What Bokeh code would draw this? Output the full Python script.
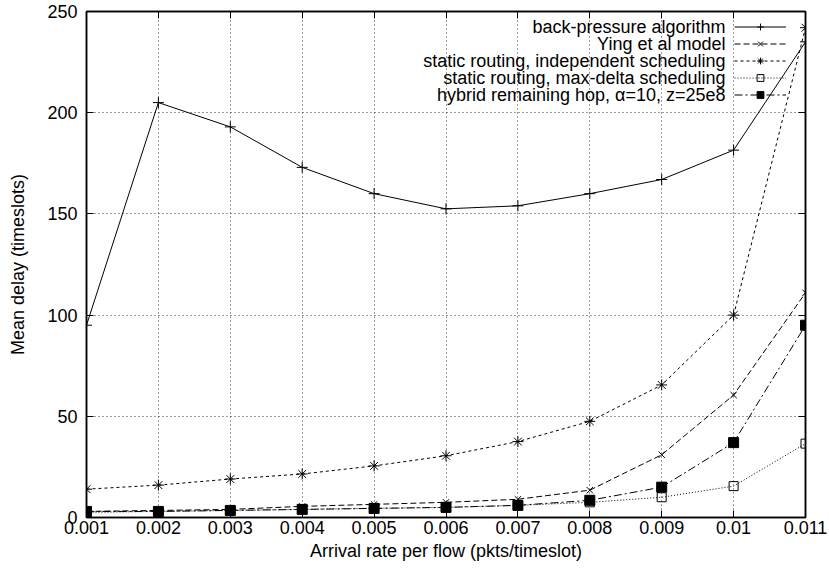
from bokeh.plotting import figure
from bokeh.models import (FixedTicker, LinearAxis, Legend, LegendItem, Range1d,
                          CustomLabelingPolicy, Label)
from bokeh.embed import file_html
from bokeh.resources import INLINE

# ---- data ----
rates = [0.001, 0.002, 0.003, 0.004, 0.005, 0.006, 0.007, 0.008, 0.009, 0.010, 0.011]
back_pressure = [95, 205, 193, 173, 160, 152.5, 154, 160, 167, 181.5, 235]
ying_model = [3, 3.5, 4, 5.5, 6.5, 7.5, 9, 13.5, 31, 60.5, 111]
static_indep = [14, 16, 19, 21.5, 25.5, 30.5, 37.5, 47.5, 65.5, 100, 242]
static_maxdelta = [2.5, 3, 3.5, 4, 4.5, 5, 6, 7.5, 10, 15.5, 36.5]
hybrid = [3, 3, 3.5, 4, 4.5, 5, 6, 8.5, 15, 37, 95]

x_ticks = [0.001, 0.002, 0.003, 0.004, 0.005, 0.006, 0.007, 0.008, 0.009, 0.01, 0.011]
x_tick_labels = ["0.001", "0.002", "0.003", "0.004", "0.005", "0.006", "0.007",
                 "0.008", "0.009", "0.01", "0.011"]
y_ticks = [0, 50, 100, 150, 200, 250]

labels = ["back-pressure algorithm", "Ying et al model",
          "static routing, independent scheduling",
          "static routing, max-delta scheduling",
          "hybrid remaining hop, \u03b1=10, z=25e8"]

FONT = "Liberation Sans"
FS = "18px"

p = figure(width=829, height=574, output_backend="svg", toolbar_location=None,
           x_range=Range1d(0.001, 0.011), y_range=Range1d(0, 250),
           min_border_left=86, min_border_right=24, min_border_top=10,
           min_border_bottom=57)

p.outline_line_color = "black"
p.outline_line_width = 1.5

# axes
p.xaxis.ticker = FixedTicker(ticks=x_ticks)
p.xaxis.major_label_overrides = {t: l for t, l in zip(x_ticks, x_tick_labels)}
p.yaxis.ticker = FixedTicker(ticks=y_ticks)
for ax in [p.xaxis[0], p.yaxis[0]]:
    ax.major_tick_in = 7
    ax.major_tick_out = 0
    ax.minor_tick_in = 0
    ax.minor_tick_out = 0
    ax.axis_line_color = "black"
    ax.axis_line_width = 1.5
    ax.major_label_text_font = FONT
    ax.major_label_text_font_size = FS
    ax.major_label_text_color = "black"
    ax.axis_label_text_font = FONT
    ax.axis_label_text_font_size = FS
    ax.axis_label_text_font_style = "normal"
    ax.axis_label_text_color = "black"
p.xaxis.axis_label = "Arrival rate per flow (pkts/timeslot)"
p.yaxis.axis_label = "Mean delay (timeslots)"
p.xaxis.major_label_standoff = 3
p.xaxis.axis_label_standoff = 4
p.yaxis.major_label_standoff = 9
p.yaxis.axis_label_standoff = 16

HIDE = "for (let i = 0; i < indices.size; i++) { indices.unset(i) } return indices"
top = LinearAxis(ticker=FixedTicker(ticks=x_ticks),
                 major_label_policy=CustomLabelingPolicy(code=HIDE),
                 major_tick_in=7, major_tick_out=0, minor_tick_in=0, minor_tick_out=0,
                 major_label_standoff=0, axis_line_width=1.5)
right = LinearAxis(ticker=FixedTicker(ticks=y_ticks),
                   major_label_policy=CustomLabelingPolicy(code=HIDE),
                   major_tick_in=7, major_tick_out=0, minor_tick_in=0, minor_tick_out=0,
                   major_label_standoff=0, axis_line_width=1.5)
p.add_layout(top, "above")
p.add_layout(right, "right")

# grid
p.xgrid.ticker = FixedTicker(ticks=x_ticks)
p.ygrid.ticker = FixedTicker(ticks=y_ticks)
for g in [p.xgrid[0], p.ygrid[0]]:
    g.grid_line_color = "black"
    g.grid_line_dash = "1 3"
    g.grid_line_width = 1
    g.grid_line_alpha = 0.8

items = []
series = [
    (back_pressure, "solid", "cross", 11, "black"),
    (ying_model, "6 3", "x", 9, "black"),
    (static_indep, "3 3", "asterisk", 11, "black"),
    (static_maxdelta, "1 2", "square", 9, None),
    (hybrid, "8 3 2 3", "square", 10, "black"),
]
for ys, dash, marker, size, fill in series:
    r1 = p.line(rates, ys, line_color="black", line_width=1, line_dash=dash)
    r2 = p.scatter(rates, ys, marker=marker, size=size, line_color="black",
                   line_width=1, fill_color=fill if fill else None)
    items.append(LegendItem(label="", renderers=[r1, r2]))

# key samples (gnuplot style: text right-aligned, sample to the right)
ROW = 17
legend = Legend(items=items, location=(648, 414))
legend.label_text_font_size = "1px"
legend.label_standoff = 0
legend.label_width = 0
legend.background_fill_alpha = 0
legend.border_line_alpha = 0
legend.glyph_width = 52
legend.glyph_height = ROW
legend.label_height = ROW
legend.spacing = 0
legend.padding = 0
legend.margin = 0
p.add_layout(legend, "center")

for i, lab in enumerate(labels):
    p.add_layout(Label(x=639, y=491 - i * ROW, x_units="screen", y_units="screen",
                       text=lab, text_align="right", text_baseline="middle",
                       text_font=FONT, text_font_size=FS, text_color="black"))

open("out.html", "w").write(file_html(p, INLINE))
